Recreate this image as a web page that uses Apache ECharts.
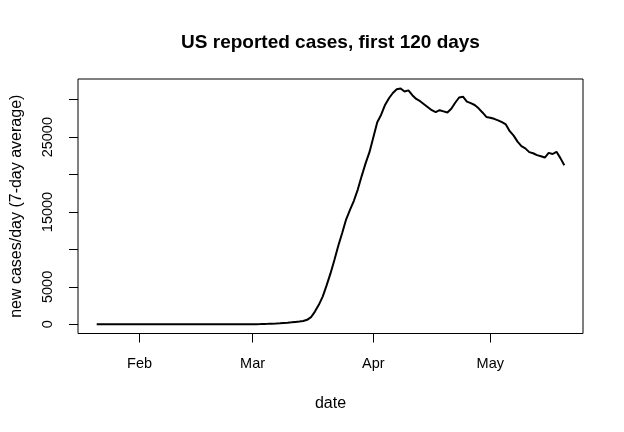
<!DOCTYPE html>
<html>
<head>
<meta charset="utf-8">
<script src="https://cdn.jsdelivr.net/npm/echarts@6/dist/echarts.min.js"></script>
<style>html,body{margin:0;padding:0;background:#fff}#c{width:624px;height:432px}</style>
</head>
<body>
<div id="c"></div>
<script>
// Day index 0 = Jan 21 (2020); 7-day average of new reported cases per day
const dayIndex = [];
for (let i = 0; i <= 120; i++) dayIndex.push(i);
const cases7d = [
  0, 0, 0, 1, 1, 1, 1, 1, 1, 1,
  1, 1, 1, 1, 1, 1, 1, 1, 1, 1,
  1, 1, 1, 1, 1, 1, 1, 1, 1, 1,
  1, 1, 1, 2, 2, 2, 3, 3, 4, 5,
  10, 20, 30, 45, 60, 80, 100, 130, 170, 210,
  260, 320, 380, 450, 600, 950, 1700, 2600, 3700, 5200,
  6800, 8600, 10500, 12200, 14000, 15300, 16500, 18000, 19800, 21500,
  23000, 25000, 27000, 28000, 29300, 30200, 30900, 31400, 31500, 31100,
  31250, 30600, 30100, 29800, 29400, 29000, 28600, 28350, 28600, 28450,
  28300, 28800, 29600, 30300, 30400, 29750, 29550, 29300, 28850, 28300,
  27700, 27600, 27450, 27250, 27000, 26700, 25800, 25200, 24400, 23800,
  23500, 23000, 22850, 22600, 22450, 22280, 22900, 22750, 23050, 22200,
  21250
];
const monthTickDays = [11, 40, 71, 101];
const monthLabels = ['Feb', 'Mar', 'Apr', 'May'];
const yTickValues = [0, 5000, 10000, 15000, 20000, 25000, 30000];
const yLabelValues = [0, 5000, 15000, 25000];

const FONT = 'Liberation Sans';
const chart = echarts.init(document.getElementById('c'), null, {renderer: 'canvas'});
chart.setOption({
  animation: false,
  backgroundColor: '#ffffff',
  title: {
    text: 'US reported cases, first 120 days',
    left: 330.5, top: 33, textAlign: 'center', padding: 0,
    textStyle: {fontFamily: FONT, fontWeight: 'bold', fontSize: 19, color: '#000'}
  },
  grid: {
    left: 78, right: 41, top: 79, bottom: 98.5,
    containLabel: false, outerBoundsMode: 'none',
    show: true, borderColor: '#000', borderWidth: 1, backgroundColor: 'transparent'
  },
  xAxis: {
    type: 'value', min: -4.8, max: 124.8,
    name: 'date', nameLocation: 'middle', nameGap: 62,
    nameTextStyle: {fontFamily: FONT, fontSize: 16, color: '#000'},
    axisLine: {show: false, onZero: false},
    splitLine: {show: false},
    axisTick: {show: true, inside: false, customValues: monthTickDays, length: 9, lineStyle: {color: '#000'}},
    axisLabel: {
      customValues: monthTickDays, margin: 23,
      fontFamily: FONT, fontSize: 14.5, color: '#000',
      formatter: function (v) { const k = monthTickDays.indexOf(Math.round(v)); return k >= 0 ? monthLabels[k] : ''; }
    }
  },
  yAxis: {
    type: 'value', min: -1228, max: 32770,
    name: 'new cases/day (7-day average)', nameLocation: 'middle', nameGap: 53, nameRotate: 90,
    nameTextStyle: {fontFamily: FONT, fontSize: 16, color: '#000'},
    axisLine: {show: false, onZero: false},
    splitLine: {show: false},
    axisTick: {show: true, inside: false, customValues: yTickValues, length: 9, lineStyle: {color: '#000'}},
    axisLabel: {
      customValues: yLabelValues, rotate: 90, margin: 23,
      fontFamily: FONT, fontSize: 14.5, color: '#000',
      formatter: function (v) { return String(v); }
    }
  },
  series: [{
    type: 'line',
    data: dayIndex.map((d, i) => [d, cases7d[i]]),
    showSymbol: false,
    smooth: false,
    lineStyle: {color: '#000', width: 2},
    itemStyle: {color: '#000'}
  }]
});
</script>
</body>
</html>
